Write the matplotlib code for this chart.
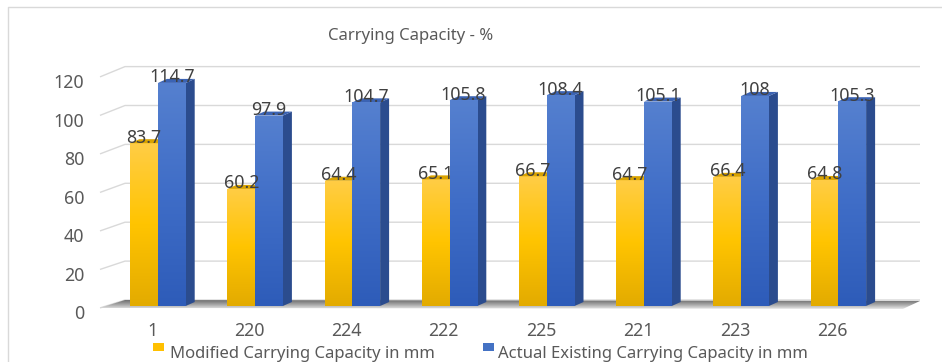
import numpy as np
import matplotlib.pyplot as plt
from matplotlib.patches import Polygon, Rectangle
from matplotlib.colors import LinearSegmentedColormap

categories = ['1', '220', '224', '222', '225', '221', '223', '226']
modified = [83.7, 60.2, 64.4, 65.1, 66.7, 64.7, 66.4, 64.8]
actual = [114.7, 97.9, 104.7, 105.8, 108.4, 105.1, 108, 105.3]
y_ticks = [0, 20, 40, 60, 80, 100, 120]
series_names = ['Modified Carrying Capacity in mm',
                'Actual Existing Carrying Capacity in mm']
title = 'Carrying Capacity - %'

W, H = 942, 362
# picture layout: px of first group centre / px per category, px of value 0 / px per unit
X0, XSTEP = 158, 97.2
Y0, YSTEP = 306, 1.945

plt.rcParams['font.family'] = ['Noto Sans', 'DejaVu Sans']


def px_x(px):
    return (px - X0) / XSTEP


def px_y(py):
    return (Y0 - py) / YSTEP


def gradient_fill(ax, patch, colors, z):
    cmap = LinearSegmentedColormap.from_list('g', colors)
    x, y = patch.get_x(), patch.get_y()
    w, h = patch.get_width(), patch.get_height()
    im = ax.imshow(np.linspace(0, 1, 100).reshape(-1, 1), cmap=cmap,
                   extent=[x, x + w, y, y + h], origin='lower',
                   aspect='auto', zorder=z, interpolation='bilinear')
    im.set_clip_path(patch)


fig = plt.figure(figsize=(W / 100, H / 100), dpi=100)
ax = fig.add_axes([0, 0, 1, 1])
ax.set_axis_off()

txt = '#595959'
grid_c = '#D9D9D9'

# 3d depth of a bar and of the wall
bw = 0.285
ddx, ddy = 9 / XSTEP, 4 / YSTEP
wall_front_x, wall_back_x, wall_right_x = px_x(100), px_x(125), px_x(920)
back_off = 6 / YSTEP

# back wall gridlines with the slanted left segment
for v in y_ticks:
    front_v = v * 0.99 - 1.0
    back_v = v + back_off
    ax.plot([wall_front_x, wall_back_x, wall_right_x], [front_v, back_v, back_v],
            color=grid_c, lw=1, zorder=1, solid_capstyle='butt')
    ax.text(px_x(84), front_v - 3.2, str(v), ha='right', va='center',
            fontsize=12.8, color=txt)

# floor shadow
floor = Polygon([(wall_front_x, -1.0), (wall_back_x, back_off),
                 (wall_right_x, back_off - 0.5), (px_x(903), -1.5)],
                closed=True, facecolor='none', edgecolor='none')
ax.add_patch(floor)
fcmap = LinearSegmentedColormap.from_list('f', ['#e6e6e6', '#a6a6a6', '#6f6f6f'])
im = ax.imshow(np.linspace(0, 1, 50).reshape(-1, 1), cmap=fcmap,
               extent=[wall_front_x, wall_right_x, -1.5, back_off],
               origin='lower', aspect='auto', zorder=1.5)
im.set_clip_path(floor)

x = np.arange(len(categories))
yel = ax.bar(x - bw / 2, modified, width=bw, color='none', zorder=3)
blu = ax.bar(x + bw / 2, actual, width=bw, color='none', zorder=4)

for p, v in zip(yel, modified):
    gradient_fill(ax, p, ['#E3AB00', '#FFC400', '#FFCD45'], 3)
    xl, xr = p.get_x(), p.get_x() + p.get_width()
    ax.add_patch(Polygon([(xl, v), (xl + ddx, v + ddy), (xr + ddx, v + ddy), (xr, v)],
                         closed=True, facecolor='#D9A300', edgecolor='none', zorder=3))
    ax.text(p.get_x() + p.get_width() / 2, v + 0.3, f'{v:g}', ha='center',
            va='baseline', fontsize=12.8, color='#404040', zorder=6)

for p, v in zip(blu, actual):
    xl, xr = p.get_x(), p.get_x() + p.get_width()
    ax.add_patch(Polygon([(xr, 0), (xr + ddx, ddy), (xr + ddx, v + ddy), (xr, v)],
                         closed=True, facecolor='#2B4C8E', edgecolor='none', zorder=4))
    ax.add_patch(Polygon([(xl, v), (xl + ddx, v + ddy), (xr + ddx, v + ddy), (xr, v)],
                         closed=True, facecolor='#3B63B3', edgecolor='none', zorder=4))
    gradient_fill(ax, p, ['#2E5CB9', '#3F6DC7', '#5580CF'], 4)
    ax.text(p.get_x() + p.get_width() / 2, v + 0.3, f'{v:g}', ha='center',
            va='baseline', fontsize=12.8, color='#404040', zorder=6)

for i, c in enumerate(categories):
    ax.text(i - 0.06, px_y(331), c, ha='center', va='center', fontsize=12.8, color=txt)

ax.text(px_x(411), px_y(40), title, ha='center', va='baseline', fontsize=12, color=txt)

# legend along the bottom edge
for sq_x, tx_x, col, name in [(153, 170, '#FFC000', series_names[0]),
                              (483, 498, '#4472C4', series_names[1])]:
    ax.add_patch(Rectangle((px_x(sq_x), px_y(351)), 11 / XSTEP, 8 / YSTEP,
                           facecolor=col, edgecolor='none', zorder=5))
    ax.text(px_x(tx_x), px_y(357.5), name, ha='left', va='baseline', fontsize=12,
            color=txt)

# chart area border (top and left visible)
ax.plot([px_x(8), px_x(8), px_x(W)], [px_y(H), px_y(7), px_y(7)],
        color=grid_c, lw=1, zorder=0)

ax.set_xlim(px_x(0), px_x(W))
ax.set_ylim(px_y(H), px_y(0))

fig.savefig('out.png', dpi=100)
